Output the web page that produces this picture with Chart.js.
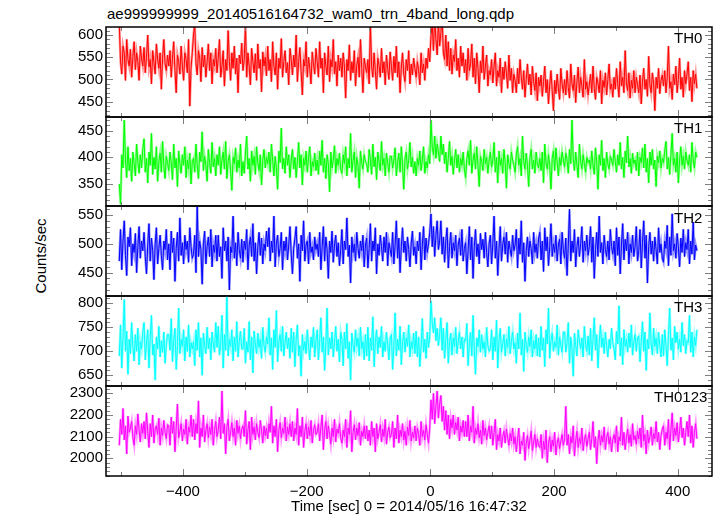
<!DOCTYPE html>
<html><head><meta charset="utf-8">
<script src="https://cdn.jsdelivr.net/npm/chart.js@4"></script>
<style>
html,body{margin:0;padding:0;background:#fff;width:717px;height:516px;overflow:hidden;}
#wrap{position:relative;width:717px;height:516px;background:#fff;}
canvas{position:absolute;left:0;}
.txt{position:absolute;font-family:'Liberation Sans',Arial,Helvetica,sans-serif;font-size:15px;color:#000;white-space:nowrap;line-height:18px;}
</style></head><body><div id="wrap">
<div class="txt" style="left:107px;top:5px">ae999999999_20140516164732_wam0_trn_4band_long.qdp</div>
<div class="txt" style="left:41px;top:256px;transform:translate(-50%,-50%) rotate(-90deg)">Counts/sec</div>
</div>
<script>
// ---- data: light-curve bins evenly spaced from startTime to endTime (sec) ----
const startTime = -503;
const endTime = 431;
const panelNames = ['TH0','TH1','TH2','TH3','TH0123'];
const th0 = [
628,540,512,575,560,498,590,545,530,568,505,552,585,522,560,540,498,575,548,530,
572,515,550,600,528,545,490,565,538,512,580,546,525,560,478,548,590,535,520,555,
530,565,505,548,585,520,470,555,540,512,575,530,498,560,545,515,590,440,525,560,
600,625,535,510,565,548,495,572,528,555,505,540,580,520,560,490,545,530,570,515,
548,590,505,530,565,485,545,520,610,540,498,560,525,575,512,548,470,555,535,582,
520,545,625,505,560,530,488,570,540,515,558,498,580,525,545,472,562,530,550,508,
575,520,545,495,585,530,510,560,478,548,525,592,505,540,565,515,538,488,570,545,
510,555,528,600,495,540,572,518,465,545,530,585,505,550,525,490,562,535,512,570,
540,505,585,525,548,470,560,530,510,575,495,545,528,590,512,540,485,555,520,548,
505,560,530,458,545,520,578,498,540,515,565,485,532,550,505,590,525,470,548,530,
515,545,490,625,530,505,560,520,478,548,532,505,570,515,540,488,555,525,500,562,
530,498,552,515,575,505,540,470,528,560,512,495,545,520,565,490,535,510,548,525,
505,540,520,488,560,515,535,498,548,525,570,540,598,625,565,640,590,555,630,575,
605,640,560,545,600,530,585,520,570,512,555,540,590,520,548,505,575,530,560,515,
545,498,570,520,535,580,505,548,490,560,525,470,542,515,575,500,530,555,485,520,
510,545,492,530,560,485,520,505,548,470,528,500,540,515,480,555,498,525,470,512,
498,470,525,490,545,505,478,520,460,500,535,488,512,465,530,495,475,515,452,505,
485,510,462,495,530,470,500,445,488,520,475,430,498,468,512,480,455,525,490,470,
500,465,520,482,458,535,490,475,510,448,495,528,470,505,485,460,545,478,495,465,
488,512,470,530,480,455,505,492,470,520,445,498,482,515,465,500,535,478,490,460,
505,478,525,490,460,540,485,505,470,565,492,475,515,458,498,480,520,470,505,488,
470,510,445,495,525,478,500,462,552,488,470,515,492,430,505,480,525,468,498,510,
485,520,470,505,575,480,495,455,512,488,530,470,500,548,478,505,460,520,490,512,
540,475,505,450,520,490,512,480];
const th1 = [
350,312,405,380,470,395,362,420,375,398,355,410,388,365,425,392,370,405,380,415,
435,372,398,352,410,385,445,368,400,378,420,355,392,408,372,430,385,360,402,390,
375,410,390,358,425,380,398,345,412,388,370,405,385,420,362,395,378,408,350,392,
398,372,425,385,360,410,392,448,375,402,385,355,415,390,370,428,382,398,365,405,
385,420,368,395,410,378,430,360,392,405,375,338,400,388,418,372,395,380,425,365,
392,370,408,440,378,398,355,412,385,402,368,420,390,375,405,348,395,415,380,400,
388,410,372,425,395,365,402,380,340,412,390,455,378,398,370,420,385,405,362,395,
415,378,400,362,392,428,380,405,348,398,385,412,372,400,420,365,392,382,408,375,
395,368,412,385,432,372,398,360,405,388,335,410,380,395,422,370,398,385,408,378,
370,405,388,420,365,398,380,445,372,395,410,362,400,385,342,412,390,378,405,392,
388,372,415,395,368,425,382,400,358,410,392,375,430,385,398,365,408,390,372,402,
402,380,395,418,365,390,408,372,420,385,340,398,410,378,395,428,382,400,370,392,
365,398,385,412,375,395,420,370,392,380,405,388,470,420,405,440,398,425,410,392,
440,405,425,388,410,372,398,430,385,402,368,395,415,380,405,372,398,385,410,378,
362,398,412,385,432,370,395,408,378,420,385,345,402,392,375,415,388,400,370,395,
410,382,395,428,372,400,352,412,385,398,370,415,390,342,405,388,378,410,395,385,
372,405,420,385,398,365,440,392,378,408,385,345,400,415,378,395,370,410,388,380,
398,375,410,352,425,390,378,405,385,340,398,412,375,418,392,365,400,385,410,395,
382,408,395,370,415,388,470,398,375,410,385,362,425,392,378,405,388,372,400,390,
395,378,412,385,368,418,392,340,405,385,432,375,398,362,410,388,378,402,395,385,
415,392,372,405,385,428,378,400,362,412,390,440,382,398,370,408,388,395,375,410,
365,400,390,418,380,425,372,398,352,410,385,415,378,395,345,402,390,412,380,398,
390,412,430,378,400,368,405,445,385,398,372,410,352,395,420,385,402,378,410,395,
385,405,372,428,395,380,410,400];
const th2 = [
470,525,455,505,540,480,445,512,495,528,462,500,485,518,450,495,530,475,505,488,
520,478,448,498,535,470,510,488,438,500,528,465,492,515,480,455,505,490,525,472,
500,455,522,485,510,435,492,520,470,545,480,502,465,515,490,505,468,528,495,475,
482,515,450,565,478,505,490,430,500,522,465,495,512,478,525,460,498,485,515,470,
515,478,495,440,528,488,505,470,512,420,495,485,548,475,502,462,520,490,475,508,
468,505,490,525,455,498,512,478,535,470,502,448,495,520,480,510,465,500,488,522,
495,528,470,505,485,548,460,500,515,478,492,520,455,505,488,512,472,498,530,482,
448,492,510,530,475,500,435,515,488,540,470,498,505,465,520,485,495,472,512,490,
500,478,520,455,495,530,470,512,490,440,505,485,522,468,498,515,478,502,462,490,
525,465,505,490,545,478,498,432,512,485,500,470,520,492,475,505,488,515,460,498,
510,458,492,535,470,505,488,528,448,500,480,515,495,470,512,485,520,462,502,490,
478,520,465,498,540,475,510,450,495,528,485,505,470,512,490,460,500,522,480,495,
465,505,488,520,455,498,530,472,510,485,500,520,552,495,530,478,515,540,490,505,
540,482,512,468,505,528,458,495,520,475,502,488,515,462,498,510,480,525,470,492,
502,448,488,530,472,512,440,495,525,478,500,465,518,490,508,475,520,485,460,500,
515,465,500,548,475,505,445,492,530,470,498,512,482,520,468,505,490,478,515,488,
498,525,458,510,482,540,468,502,435,488,512,478,505,492,465,520,485,500,475,510,
520,472,505,452,528,488,512,462,495,535,478,500,485,515,470,498,508,465,520,490,
475,510,445,498,560,470,505,485,525,460,495,512,478,500,530,468,505,488,515,480,
495,530,468,512,440,490,520,478,548,485,502,465,515,490,478,505,472,525,495,482,
505,462,528,480,512,448,498,535,472,508,488,520,465,500,485,515,478,495,530,470,
488,525,458,502,540,475,515,432,495,520,482,505,470,512,490,465,528,485,500,475,
468,505,492,532,462,512,480,552,488,500,475,518,495,460,510,485,525,478,502,490,
525,465,505,482,538,472,498,488];
const th3 = [
690,755,665,728,808,700,742,652,725,695,760,710,680,735,700,748,672,720,705,740,
760,682,718,745,665,728,775,692,715,640,730,705,752,688,722,698,740,675,712,735,
735,702,768,678,722,748,662,712,790,695,725,710,745,680,730,700,755,688,718,705,
720,670,745,702,760,688,728,650,738,712,695,750,705,728,682,740,715,698,760,708,
752,692,715,775,665,735,702,815,690,725,710,745,680,730,700,762,688,720,742,705,
705,748,675,720,698,762,682,730,655,742,715,695,738,708,725,685,750,712,698,730,
715,770,692,728,662,745,708,785,678,720,735,700,752,690,718,740,705,728,685,748,
698,740,668,725,755,690,712,648,735,702,720,695,745,710,682,730,708,750,688,722,
745,682,722,770,698,730,660,715,790,692,728,705,740,688,718,752,700,725,678,740,
725,670,740,705,758,685,720,640,738,712,698,745,710,728,690,750,705,720,682,735,
690,750,680,728,702,772,668,718,745,695,730,708,752,688,720,700,740,715,682,728,
735,662,712,780,690,725,702,752,672,718,740,698,728,710,755,688,720,705,738,695,
742,688,730,668,712,768,698,725,685,740,708,730,805,760,738,770,722,748,712,735,
770,702,748,685,725,760,675,718,738,692,728,710,750,695,720,740,705,730,688,725,
722,758,670,715,740,690,775,702,652,728,710,745,698,735,705,720,688,750,712,700,
705,745,682,730,700,765,665,722,748,698,715,735,690,725,708,752,695,720,740,705,
718,675,738,705,780,692,725,658,740,712,698,730,710,745,688,722,705,735,690,728,
688,752,702,728,668,745,715,790,685,722,738,700,720,708,755,692,730,712,698,740,
740,698,718,760,675,730,705,648,738,712,690,745,722,705,728,688,752,715,700,732,
692,748,680,725,770,702,735,665,718,755,708,728,695,740,712,688,725,705,748,718,
705,682,742,715,795,690,728,672,745,710,725,698,738,708,755,692,720,735,700,728,
732,678,720,762,700,740,660,725,705,780,715,692,748,710,728,695,740,712,688,735,
690,745,712,670,735,790,702,728,682,752,718,740,705,725,698,760,712,735,695,722,
718,775,698,740,688,730,712,745];
const th0123 = [
2060,2180,2110,2230,2085,2150,2020,2195,2120,2140,2170,2095,2060,2150,2110,2205,2130,2075,2160,2115,
2170,2090,2210,2125,2050,2160,2100,2200,2070,2135,2150,2110,2185,2060,2140,2105,2175,2120,2090,2155,
2150,2060,2190,2115,2170,2030,2140,2250,2095,2125,2160,2080,2135,2110,2180,2065,2145,2120,2200,2100,
2180,2085,2160,2115,2265,2050,2140,2100,2200,2075,2130,2160,2095,2145,2110,2180,2060,2130,2170,2100,
2130,2190,2090,2310,2115,2160,2020,2145,2180,2080,2120,2165,2100,2140,2060,2175,2115,2150,2090,2135,
2150,2100,2220,2065,2130,2170,2040,2190,2110,2145,2085,2160,2120,2095,2175,2130,2070,2150,2105,2140,
2090,2160,2120,2240,2070,2150,2100,2180,2030,2130,2165,2095,2140,2115,2190,2080,2145,2110,2160,2100,
2170,2080,2140,2110,2230,2060,2150,2100,2190,2050,2125,2160,2090,2145,2105,2175,2070,2130,2155,2110,
2120,2160,2080,2145,2200,2040,2130,2170,2090,2150,2110,2065,2140,2100,2180,2075,2135,2115,2160,2095,
2070,2130,2100,2180,2050,2140,2110,2220,2030,2120,2155,2085,2140,2105,2165,2060,2125,2100,2150,2090,
2150,2080,2130,2060,2170,2100,2140,2030,2160,2090,2120,2155,2075,2135,2100,2180,2065,2120,2145,2095,
2110,2170,2050,2140,2090,2200,2070,2130,2100,2160,2085,2125,2060,2145,2105,2175,2080,2120,2095,2150,
2080,2140,2110,2060,2170,2100,2130,2085,2155,2110,2070,2140,2270,2180,2300,2160,2240,2310,2185,2250,
2290,2170,2240,2130,2220,2110,2200,2090,2180,2140,2200,2110,2165,2130,2190,2080,2150,2120,2175,2100,
2170,2100,2200,2080,2150,2120,2240,2070,2140,2110,2160,2095,2130,2065,2175,2105,2140,2085,2120,2150,
2090,2150,2060,2120,2180,2040,2110,2080,2140,2050,2100,2125,2070,2135,2095,2060,2115,2080,2140,2065,
2100,2030,2090,2140,2020,2080,2060,2120,1990,2070,2105,2045,2085,2125,2035,2075,2110,2050,2090,2060,
2050,2110,2000,2080,2040,2130,1980,2070,2100,2030,2085,2055,2120,2015,2070,2095,2045,2080,2110,2060,
2090,2240,2060,2110,2020,2100,2070,2150,2010,2080,2125,2050,2095,2065,2140,2035,2085,2110,2055,2090,
2120,2040,2090,2170,2050,2100,1975,2080,2130,2060,2105,2075,2145,2040,2095,2120,2065,2100,2030,2085,
2110,2070,2150,2030,2100,2080,2190,2060,2120,2040,2095,2135,2070,2110,2055,2160,2085,2105,2065,2125,
2090,2140,2050,2200,2080,2110,2020,2130,2070,2100,2145,2060,2115,2090,2170,2075,2120,2040,2105,2135,
2150,2060,2120,2090,2180,2040,2130,2210,2080,2140,2105,2165,2075,2125,2190,2095,2140,2060,2120,2170,
2100,2200,2070,2150,2050,2120,2160,2090];
const seriesList = [th0, th1, th2, th3, th0123];
// axis ranges & tick labels
const xTickLabels = [-400, -200, 0, 200, 400];
const yTickLabels = [[450,500,550,600],[350,400,450],[450,500,550],[650,700,750,800],[2000,2100,2200,2300]];
const yMinorStep = [10,10,10,10,20];
const xRange = [-524.5, 455.4];
const yRanges = [[415.6,618.0],[308.7,475.7],[409.6,565.6],[627.7,815.2],[1918.3,2333.7]];
const xTitle = 'Time [sec] 0 = 2014/05/16 16:47:32';

// ---- presentation ----
const colors = ['#ff0000','#00ff00','#0000ff','#00ffff','#ff00ff'];
const haloColors = ['rgba(255,0,0,0.4)','rgba(0,255,0,0.4)','rgba(0,0,255,0.4)','rgba(0,255,255,0.4)','rgba(255,0,255,0.4)'];
const panelTop = [27,117,206,296,386,476];
const labelPos = [[674,29],[674,119],[674,209],[674,298],[654,388]];
const FONT = "'Liberation Sans', Arial, Helvetica, sans-serif";
const wrap = document.getElementById('wrap');

const frameTicks = {
  id: 'frameTicks',
  afterDraw(chart, args, opts) {
    const {ctx, chartArea: {left, right, top, bottom}, scales: {x, y}} = chart;
    ctx.save();
    ctx.strokeStyle = '#808080';
    ctx.lineWidth = 1;
    const ln = (x1, y1, x2, y2) => { ctx.beginPath(); ctx.moveTo(x1, y1); ctx.lineTo(x2, y2); ctx.stroke(); };
    const st = opts.minor;
    for (let v = Math.ceil(y.min / st) * st; v <= y.max; v += st) {
      const py = Math.round(y.getPixelForValue(v)) + 0.5;
      const len = opts.major.includes(v) ? 7 : 4;
      ln(left, py, left + len, py);
      ln(right, py, right - len, py);
    }
    for (let v = -500; v <= 400; v += 100) {
      const px = Math.round(x.getPixelForValue(v)) + 0.5;
      const len = (v % 200 === 0) ? 7 : 4;
      ln(px, top, px, top + len);
      ln(px, bottom, px, bottom - len);
    }
    ctx.strokeStyle = '#000';
    ctx.lineWidth = 1.5;
    ctx.strokeRect(left, top, right - left, bottom - top);
    ctx.restore();
  }
};

seriesList.forEach((vals, i) => {
  const last = i === seriesList.length - 1;
  const margin = 12;
  const cTop = panelTop[i] - margin;
  const cH = last ? 516 - cTop : (panelTop[i + 1] - panelTop[i]) + 2 * margin;
  const cv = document.createElement('canvas');
  cv.width = 717; cv.height = cH;
  cv.style.top = cTop + 'px';
  cv.style.width = '717px'; cv.style.height = cH + 'px';
  wrap.appendChild(cv);
  const lab = document.createElement('div');
  lab.className = 'txt';
  lab.style.left = labelPos[i][0] + 'px';
  lab.style.top = labelPos[i][1] + 'px';
  lab.textContent = panelNames[i];
  wrap.appendChild(lab);

  const step = (endTime - startTime) / (vals.length - 1);
  const pts = vals.map((v, k) => ({x: startTime + k * step, y: v}));
  new Chart(cv, {
    type: 'line',
    data: { datasets: [
      { data: pts, borderColor: haloColors[i], borderWidth: 2.5, pointRadius: 0, tension: 0, fill: false },
      { data: pts, borderColor: colors[i], borderWidth: 1, pointRadius: 0, tension: 0, fill: false }
    ] },
    options: {
      responsive: false, animation: false, devicePixelRatio: 1,
      parsing: false, normalized: true,
      layout: { padding: { top: margin, bottom: last ? 0 : margin, left: 0, right: 5 } },
      plugins: { legend: { display: false }, tooltip: { enabled: false }, frameTicks: { major: yTickLabels[i], minor: yMinorStep[i] } },
      scales: {
        x: {
          type: 'linear', min: xRange[0], max: xRange[1], display: last,
          grid: { display: false, drawTicks: false }, border: { display: false },
          afterBuildTicks: s => { s.ticks = xTickLabels.map(v => ({value: v})); },
          afterFit: s => { if (last) s.height = 516 - 476; },
          ticks: { font: { family: FONT, size: 15 }, color: '#000', padding: 7, maxRotation: 0, autoSkip: false,
                   callback: v => (v < 0 ? '\u2212' + Math.abs(v) : String(v)) },
          title: { display: last, text: xTitle, font: { family: FONT, size: 15 }, color: '#000', padding: { top: 0, bottom: 0 } }
        },
        y: {
          type: 'linear', min: yRanges[i][0], max: yRanges[i][1],
          grid: { display: false, drawTicks: false }, border: { display: false },
          afterBuildTicks: s => { s.ticks = yTickLabels[i].map(v => ({value: v})); },
          afterFit: s => { s.width = 106; },
          ticks: { font: { family: FONT, size: 15 }, color: '#000', padding: 3, autoSkip: false,
                   callback: v => String(v) }
        }
      }
    },
    plugins: [frameTicks]
  });
});
</script>
</body></html>
